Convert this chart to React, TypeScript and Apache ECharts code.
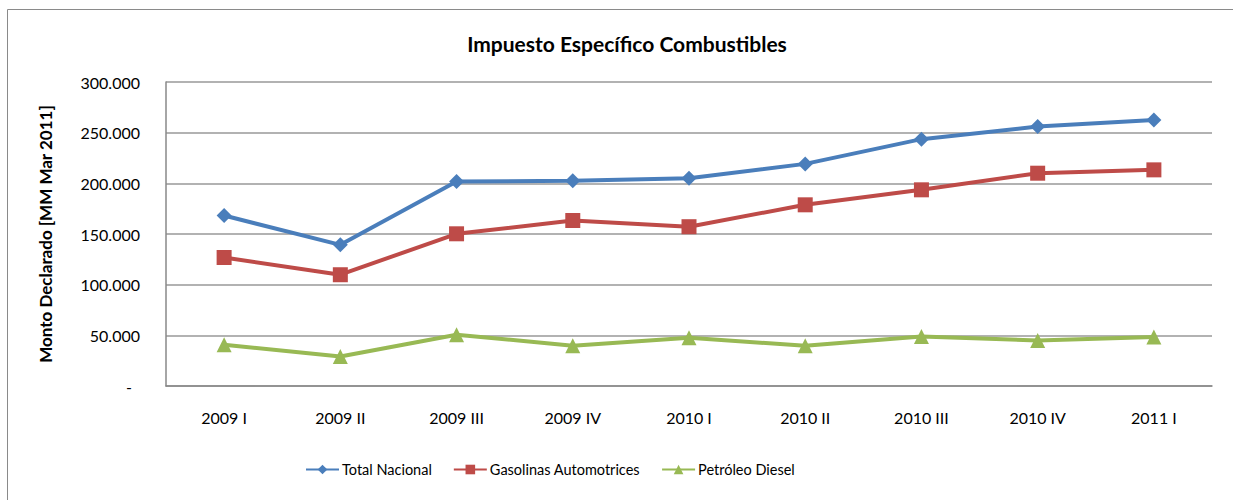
import React, { useEffect, useRef } from "react";
import * as echarts from "echarts";

const categories = ["2009 I", "2009 II", "2009 III", "2009 IV", "2010 I", "2010 II", "2010 III", "2010 IV", "2011 I"];
const totalNacional = [168200, 139300, 201800, 202500, 205000, 219200, 243600, 256000, 262600];
const gasolinas = [126800, 109800, 150200, 163300, 157200, 178800, 193600, 210000, 213300];
const diesel = [40700, 29200, 50600, 39700, 47600, 39700, 48900, 45000, 48300];
const yTicks = { min: 0, max: 300000, interval: 50000 };

const FONT = "Lato";

function fmt(v: number): string {
  if (v === 0) return "{dash|-}";
  const s = Math.round(v).toString();
  return s.replace(/\B(?=(\d{3})+(?!\d))/g, ".");
}

export default function App() {
  const ref = useRef<HTMLDivElement>(null);
  useEffect(() => {
    document.body.style.margin = "0";
    const chart = echarts.init(ref.current!, null, { renderer: "svg" });
    const mk = (name: string, data: number[], color: string, symbol: string, size: number) => ({
      name,
      type: "line",
      data,
      symbol,
      symbolSize: size,
      lineStyle: { color, width: 4 },
      itemStyle: { color },
      emphasis: { disabled: true },
    });
    chart.setOption({
      animation: false,
      backgroundColor: "#ffffff",
      textStyle: { fontFamily: FONT },
      title: {
        text: "Impuesto Específico Combustibles",
        left: 622,
        textAlign: "center",
        top: 28,
        textStyle: { fontFamily: FONT, fontWeight: "bold", fontSize: 21, color: "#000" },
      },
      graphic: [
        {
          type: "rect",
          shape: { x: 7.5, y: 9.5, width: 1300, height: 600 },
          style: { fill: "none", stroke: "#8a8a8a", lineWidth: 1 },
          silent: true,
        },
      ],
      grid: { left: 166, right: 21, top: 82, bottom: 114, containLabel: false },
      legend: {
        bottom: 18,
        left: 300,
        itemWidth: 33,
        itemHeight: 12,
        itemGap: 21,
        textStyle: { fontFamily: FONT, fontSize: 14.5, color: "#000", padding: [0, 0, 0, -2] },
        data: ["Total Nacional", "Gasolinas Automotrices", "Petróleo Diesel"],
      },
      xAxis: {
        type: "category",
        data: categories,
        boundaryGap: true,
        axisLine: { lineStyle: { color: "#888", width: 1.5 } },
        axisTick: { show: false },
        axisLabel: { fontFamily: FONT, fontSize: 16, color: "#000", margin: 23 },
      },
      yAxis: {
        type: "value",
        min: yTicks.min,
        max: yTicks.max,
        interval: yTicks.interval,
        name: "Monto Declarado [MM Mar 2011]",
        nameLocation: "middle",
        nameGap: 112,
        nameTextStyle: { fontFamily: FONT, fontWeight: "bold", fontSize: 17, color: "#000" },
        axisLine: { show: true, lineStyle: { color: "#888", width: 1.5 } },
        axisTick: { show: false },
        splitLine: { lineStyle: { color: "#999", width: 1.5 } },
        axisLabel: {
          fontFamily: FONT,
          fontSize: 16,
          color: "#000",
          margin: 26,
          formatter: fmt,
          rich: { dash: { fontFamily: FONT, fontSize: 16, color: "#000", padding: [0, 8, 0, 0] } },
        },
      },
      series: [
        mk("Total Nacional", totalNacional, "#4A7EBB", "diamond", 15),
        mk("Gasolinas Automotrices", gasolinas, "#BE4B48", "rect", 15),
        mk("Petróleo Diesel", diesel, "#98B954", "triangle", 15),
      ],
    });
    return () => chart.dispose();
  }, []);
  return <div ref={ref} style={{ width: 1233, height: 500 }} />;
}
